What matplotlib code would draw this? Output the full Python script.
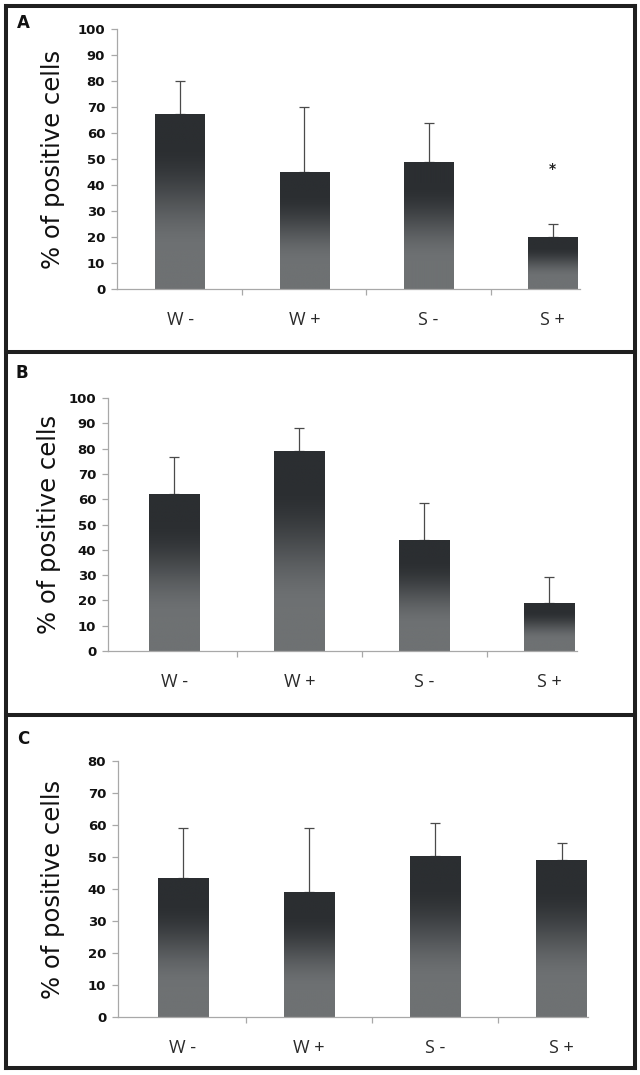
import numpy as np
import matplotlib
matplotlib.use('Agg')
import matplotlib.pyplot as plt
from matplotlib.lines import Line2D

# ---------------- data ----------------
categories = ['W -', 'W +', 'S -', 'S +']
a_means = [67.5, 45.0, 49.0, 20.0]
a_err = [12.5, 25.0, 15.0, 5.0]
b_means = [62.0, 79.0, 44.0, 19.0]
b_err = [14.5, 9.2, 14.5, 10.2]
c_means = [43.5, 39.2, 50.3, 49.1]
c_err = [15.5, 19.8, 10.2, 5.4]
panel_letters = ['A', 'B', 'C']
ab_yticks = [0, 10, 20, 30, 40, 50, 60, 70, 80, 90, 100]
c_yticks = [0, 10, 20, 30, 40, 50, 60, 70, 80]
star_label = '*'
star_y = 46
ylabel_text = '% of positive cells'

W, H = 640, 1075
fig = plt.figure(figsize=(W / 100, H / 100), dpi=100)

DARK = np.array([0x2b, 0x2e, 0x31]) / 255
GRAY = np.array([0x6e, 0x71, 0x73]) / 255

# gradient image (top dark -> bottom gray)
t = np.linspace(0, 1, 256)
s = np.clip((t - 0.18) / 0.6, 0, 1)
s = s * s * (3 - 2 * s)
grad = DARK[None, :] + (GRAY - DARK)[None, :] * s[:, None]
grad_img = grad[:, None, :]

panels = [
    dict(means=a_means, err=a_err, yticks=ab_yticks, ymax=100,
         px=(117, 580, 29, 289), xlim=(-0.51, 3.22), letter_xy=(23, 23), lab_dx=64),
    dict(means=b_means, err=b_err, yticks=ab_yticks, ymax=100,
         px=(108, 577, 398, 651), xlim=(-0.53, 3.22), letter_xy=(22, 373), lab_dx=59),
    dict(means=c_means, err=c_err, yticks=c_yticks, ymax=80,
         px=(118, 588, 761, 1017), xlim=(-0.515, 3.21), letter_xy=(23, 739), lab_dx=65),
]

AXC = '#a8a8a8'
for i, p in enumerate(panels):
    l, r, top, bot = p['px']
    ax = fig.add_axes([l / W, 1 - bot / H, (r - l) / W, (bot - top) / H])
    x = np.arange(len(categories))
    bars = ax.bar(x, p['means'], width=0.4, color='none', edgecolor='none', zorder=2)
    for b in bars:
        bx, by = b.get_x(), b.get_y()
        bw, bh = b.get_width(), b.get_height()
        im = ax.imshow(grad_img, extent=[bx, bx + bw, by, by + bh], aspect='auto',
                       zorder=2, interpolation='bilinear')
        im.set_clip_path(b)
    ax.errorbar(x, p['means'], yerr=[np.zeros(len(x)), p['err']], fmt='none',
                ecolor='#4a4a4a', elinewidth=0.9, capsize=3.5, capthick=0.9, zorder=1)
    ax.set_xlim(*p['xlim'])
    ax.set_ylim(0, p['ymax'])
    ax.set_yticks(p['yticks'])
    ax.set_xticks(x)
    ax.set_xticklabels(categories, fontsize=13, family='Open Sans', color='#2a2a2a')
    ax.set_xticks([0.5, 1.5, 2.5], minor=True)
    ax.tick_params(axis='x', which='major', length=0, pad=16)
    ax.tick_params(axis='x', which='minor', length=4, width=0.9, color=AXC, direction='out')
    ax.tick_params(axis='y', length=4.5, width=0.9, color=AXC, pad=4, labelsize=9.5)
    for lab in ax.get_yticklabels():
        lab.set_fontweight('bold')
        lab.set_family('DejaVu Sans')
        lab.set_color('#111111')
    for sp in ['top', 'right']:
        ax.spines[sp].set_visible(False)
    for sp in ['left', 'bottom']:
        ax.spines[sp].set_color(AXC)
        ax.spines[sp].set_linewidth(0.9)
    ax.set_ylabel(ylabel_text, fontsize=17.5, family='DejaVu Sans', color='#111111')
    ax.yaxis.label.set_va('center')
    ax.yaxis.set_label_coords(-p['lab_dx'] / (r - l), 0.5)
    if i == 0:
        ax.text(3, star_y, star_label, ha='center', va='center', fontsize=10,
                fontweight='bold', color='#222222')
    lx, ly = p['letter_xy']
    fig.text(lx / W, 1 - ly / H, panel_letters[i], ha='center', va='center',
             fontsize=12, fontweight='bold', family='DejaVu Sans', color='#111111')

# frame and dividers
FC = '#1f1f1f'
LW = 2.9
x0, x1 = 5.5 / W, 634.5 / W
y0, y1 = 1 - 5.5 / H, 1 - 1067.5 / H
for (xs, ys) in [([x0, x1], [y0, y0]), ([x0, x1], [y1, y1]),
                 ([x0, x0], [y0, y1]), ([x1, x1], [y0, y1]),
                 ([x0, x1], [1 - 352 / H] * 2), ([x0, x1], [1 - 715 / H] * 2)]:
    fig.add_artist(Line2D(xs, ys, transform=fig.transFigure, color=FC, lw=LW,
                          solid_capstyle='projecting'))

fig.savefig('out.png', dpi=100)
